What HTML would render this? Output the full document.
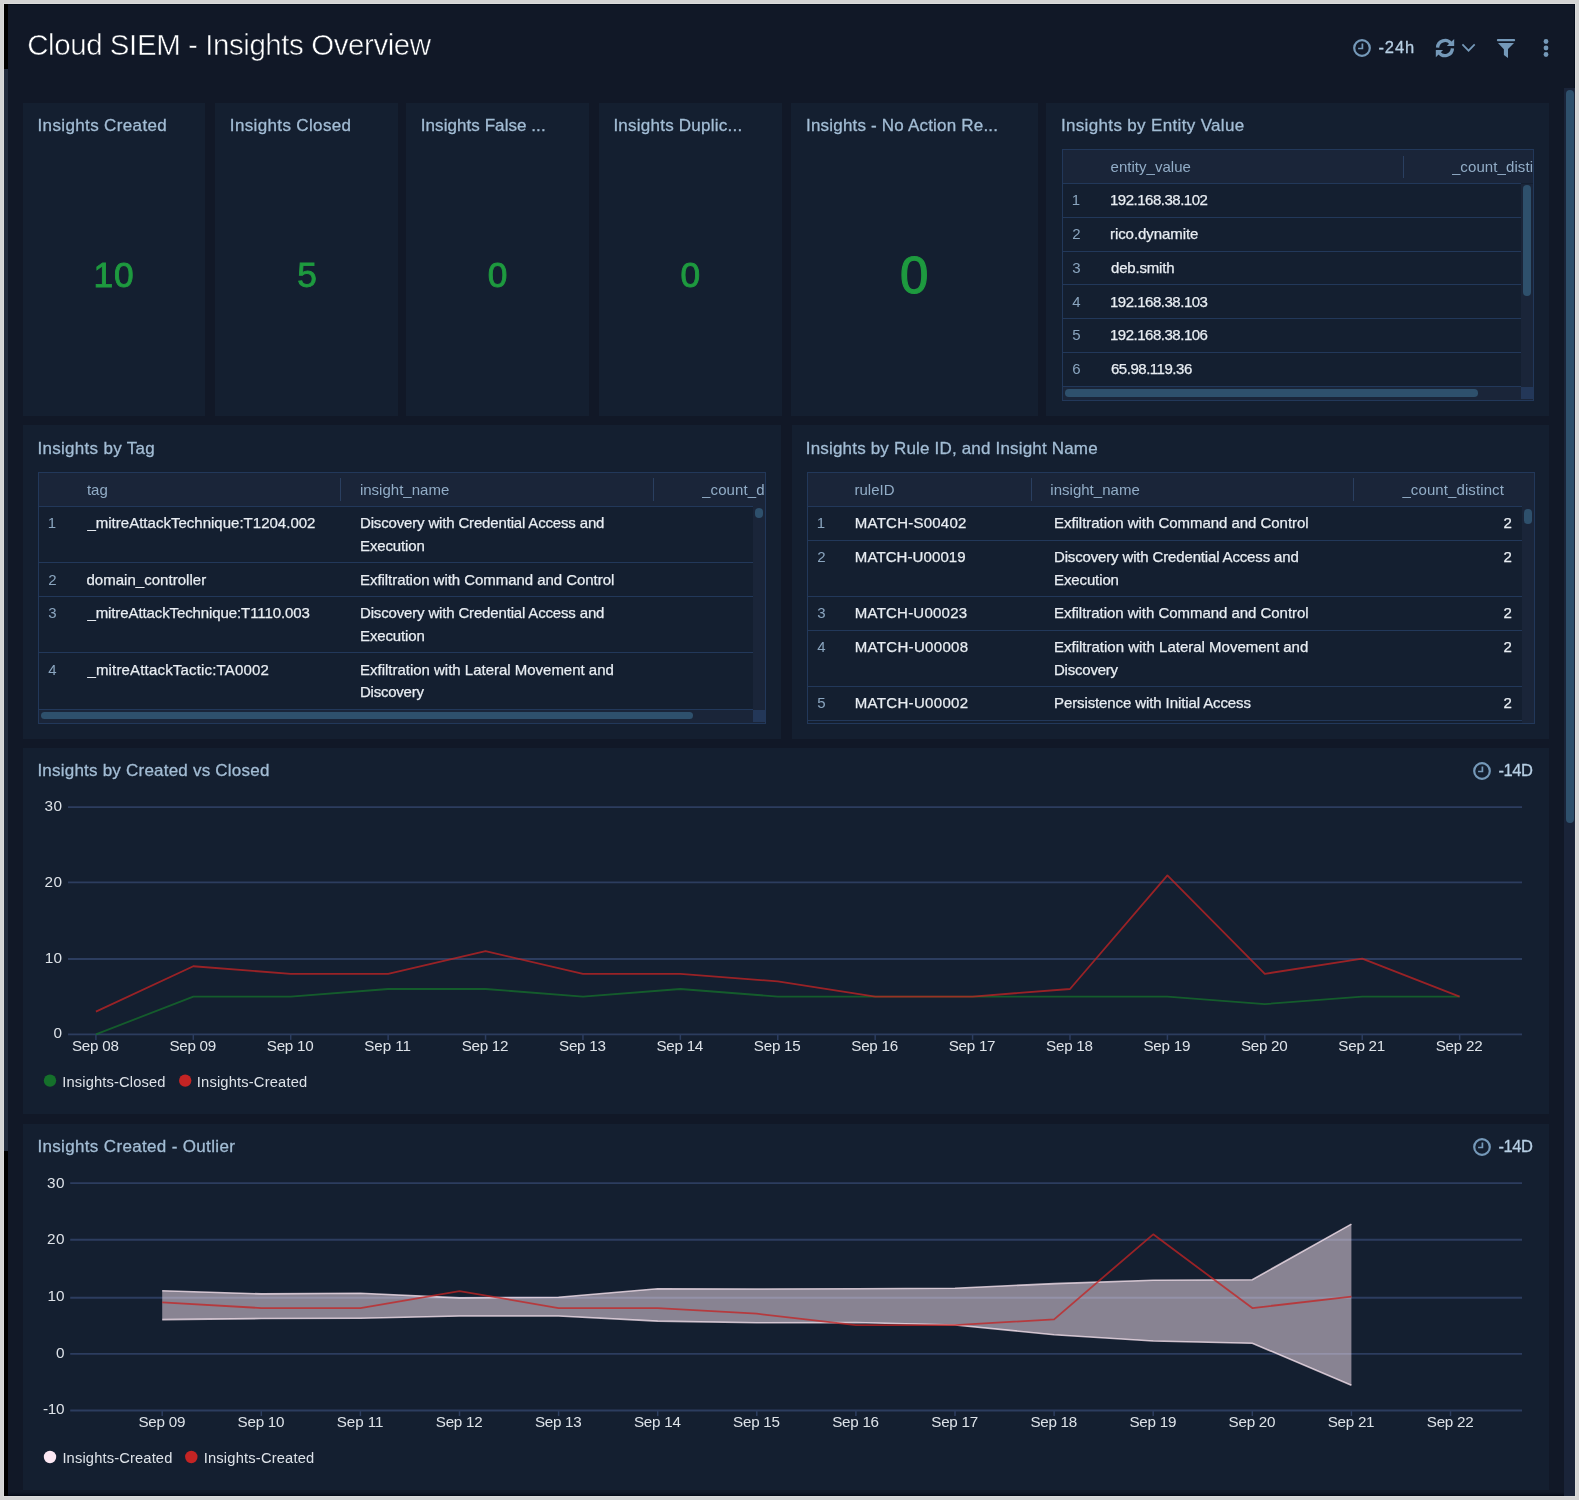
<!DOCTYPE html>
<html><head><meta charset="utf-8"><title>Cloud SIEM - Insights Overview</title>
<style>
html,body{margin:0;padding:0;}
body{width:1579px;height:1500px;position:relative;overflow:hidden;background:#d4d4d4;font-family:"Liberation Sans",sans-serif;}
svg{display:block;overflow:visible}
</style></head><body>
<div style="position:absolute;left:4.00px;top:4.00px;width:1571.00px;height:1492.00px;background:#111827;"></div>
<div style="position:absolute;left:4.00px;top:4.00px;width:4.00px;height:65.00px;background:#000;"></div>
<div style="position:absolute;left:4.00px;top:69.00px;width:4.00px;height:1082.00px;background:#222b3c;"></div>
<div style="position:absolute;left:4.00px;top:1151.00px;width:4.00px;height:345.00px;background:#000;"></div>
<div style="position:absolute;left:8.00px;top:1491.50px;width:1567.00px;height:4.50px;background:linear-gradient(to bottom, rgba(0,6,20,0) 0%, rgba(0,6,20,0.45) 70%, rgba(0,4,16,0.92) 100%);"></div>
<div style="position:absolute;left:1574.20px;top:4.00px;width:0.80px;height:1492.00px;background:rgba(0,6,22,0.6);"></div>
<div style="position:absolute;left:8.00px;top:4.00px;width:1567.00px;height:0.90px;background:rgba(0,6,22,0.6);"></div>
<div style="position:absolute;left:1564.00px;top:88.00px;width:11.00px;height:1408.00px;background:#1a2439;"></div>
<div style="position:absolute;left:1566.00px;top:90.00px;width:8.00px;height:733.00px;background:#2e506c;border-radius:4px;"></div>
<div style="position:absolute;left:3.00px;top:3.00px;width:1.00px;height:1494.00px;background:#dbdbdb;"></div>
<div style="position:absolute;left:1575.00px;top:3.00px;width:1.00px;height:1494.00px;background:#dbdbdb;"></div>
<div style="position:absolute;left:3.00px;top:3.00px;width:1573.00px;height:1.00px;background:#dbdbdb;"></div>
<div style="position:absolute;left:3.00px;top:1496.00px;width:1573.00px;height:1.00px;background:#dbdbdb;"></div>
<svg style="position:absolute;left:1351px;top:36.9px" width="22" height="22" viewBox="-11 -11 22 22"><circle cx="0" cy="0" r="7.8" fill="none" stroke="#7599b9" stroke-width="2.2"/><path d="M0.4,-4.6 V0.5 H-3.9" fill="none" stroke="#7599b9" stroke-width="1.7"/></svg>
<svg style="position:absolute;left:1430px;top:33px" width="30" height="30" viewBox="1430 33 30 30"><path d="M1437.55,47.6 A7.45,7.45 0 0 1 1450.9,43.4" fill="none" stroke="#7599b9" stroke-width="3.3"/><path d="M1452.45,48.4 A7.45,7.45 0 0 1 1439.1,52.7" fill="none" stroke="#7599b9" stroke-width="3.3"/><path d="M1454.2,38.9 V46.1 H1446.8 Z" fill="#7599b9"/><path d="M1435.8,57.2 V50.1 H1443.1 Z" fill="#7599b9"/></svg>
<svg style="position:absolute;left:1458px;top:38px" width="22" height="20" viewBox="1458 38 22 20"><path d="M1462.4,44.4 L1468.55,50.7 L1474.7,44.4" fill="none" stroke="#7599b9" stroke-width="1.7"/></svg>
<svg style="position:absolute;left:1492px;top:34px" width="28" height="28" viewBox="1492 34 28 28"><rect x="1496.9" y="39.1" width="18.2" height="2.1" rx="1" fill="#7599b9"/><path d="M1498,43 H1514 L1508,49 V58 L1503.9,54.9 V49.2 Z" fill="#7599b9"/></svg>
<svg style="position:absolute;left:1540px;top:36px" width="12" height="24" viewBox="1540 36 12 24"><circle cx="1546" cy="41.5" r="2.4" fill="#7599b9"/><circle cx="1546" cy="48" r="2.4" fill="#7599b9"/><circle cx="1546" cy="54.5" r="2.4" fill="#7599b9"/></svg>
<div style="position:absolute;left:23.00px;top:103.00px;width:182.00px;height:313.00px;background:#141f30;"></div>
<div style="position:absolute;left:215.20px;top:103.00px;width:182.40px;height:313.00px;background:#141f30;"></div>
<div style="position:absolute;left:406.20px;top:103.00px;width:182.40px;height:313.00px;background:#141f30;"></div>
<div style="position:absolute;left:599.10px;top:103.00px;width:182.50px;height:313.00px;background:#141f30;"></div>
<div style="position:absolute;left:791.30px;top:103.00px;width:246.40px;height:313.00px;background:#141f30;"></div>
<div style="position:absolute;left:1046.30px;top:103.00px;width:502.70px;height:313.00px;background:#141f30;"></div>
<div style="position:absolute;left:23.00px;top:425.00px;width:757.90px;height:314.00px;background:#141f30;"></div>
<div style="position:absolute;left:791.50px;top:425.00px;width:757.50px;height:314.00px;background:#141f30;"></div>
<div style="position:absolute;left:23.00px;top:748.00px;width:1526.00px;height:366.20px;background:#141f30;"></div>
<div style="position:absolute;left:23.00px;top:1124.00px;width:1526.00px;height:366.00px;background:#141f30;"></div>
<svg style="position:absolute;left:1471px;top:760.1px" width="22" height="22" viewBox="-11 -11 22 22"><circle cx="0" cy="0" r="7.8" fill="none" stroke="#7599b9" stroke-width="2.2"/><path d="M0.4,-4.6 V0.5 H-3.9" fill="none" stroke="#7599b9" stroke-width="1.7"/></svg>
<svg style="position:absolute;left:1471px;top:1136.2px" width="22" height="22" viewBox="-11 -11 22 22"><circle cx="0" cy="0" r="7.8" fill="none" stroke="#7599b9" stroke-width="2.2"/><path d="M0.4,-4.6 V0.5 H-3.9" fill="none" stroke="#7599b9" stroke-width="1.7"/></svg>
<div style="position:absolute;left:1062.40px;top:149.80px;width:471.20px;height:33.70px;background:#1a2539;"></div>
<div style="position:absolute;left:1521.20px;top:183.50px;width:12.40px;height:216.70px;background:#1a2539;"></div>
<div style="position:absolute;left:1062.40px;top:386.90px;width:458.80px;height:13.30px;background:#1a2539;"></div>
<div style="position:absolute;left:1061.90px;top:149.30px;width:472.20px;height:1.00px;background:#22385a;"></div>
<div style="position:absolute;left:1061.90px;top:399.70px;width:472.20px;height:1.00px;background:#22385a;"></div>
<div style="position:absolute;left:1061.90px;top:149.80px;width:1.00px;height:250.40px;background:#22385a;"></div>
<div style="position:absolute;left:1533.10px;top:149.80px;width:1.00px;height:250.40px;background:#22385a;"></div>
<div style="position:absolute;left:1062.40px;top:183.00px;width:458.80px;height:1.00px;background:#22385a;"></div>
<div style="position:absolute;left:1403.00px;top:155.50px;width:1.00px;height:22.50px;background:#2a3f60;"></div>
<div style="position:absolute;left:1062.40px;top:216.80px;width:458.80px;height:1.00px;background:#22385a;"></div>
<div style="position:absolute;left:1062.40px;top:250.80px;width:458.80px;height:1.00px;background:#22385a;"></div>
<div style="position:absolute;left:1062.40px;top:283.90px;width:458.80px;height:1.00px;background:#22385a;"></div>
<div style="position:absolute;left:1062.40px;top:317.70px;width:458.80px;height:1.00px;background:#22385a;"></div>
<div style="position:absolute;left:1062.40px;top:351.50px;width:458.80px;height:1.00px;background:#22385a;"></div>
<div style="position:absolute;left:1062.40px;top:385.90px;width:458.80px;height:1.00px;background:#22385a;"></div>
<div style="position:absolute;left:1523.10px;top:185.20px;width:7.80px;height:110.50px;background:#2e506c;border-radius:3.9px;"></div>
<div style="position:absolute;left:1064.90px;top:389.40px;width:413.00px;height:7.60px;background:#2e506c;border-radius:3.8px;"></div>
<div style="position:absolute;left:1521.20px;top:386.90px;width:11.90px;height:12.60px;background:#233758;"></div>
<div style="position:absolute;left:38.60px;top:472.20px;width:727.00px;height:34.40px;background:#1a2539;"></div>
<div style="position:absolute;left:753.20px;top:506.60px;width:12.40px;height:216.40px;background:#1a2539;"></div>
<div style="position:absolute;left:38.60px;top:709.70px;width:714.60px;height:13.30px;background:#1a2539;"></div>
<div style="position:absolute;left:38.10px;top:471.70px;width:728.00px;height:1.00px;background:#22385a;"></div>
<div style="position:absolute;left:38.10px;top:722.50px;width:728.00px;height:1.00px;background:#22385a;"></div>
<div style="position:absolute;left:38.10px;top:472.20px;width:1.00px;height:250.80px;background:#22385a;"></div>
<div style="position:absolute;left:765.10px;top:472.20px;width:1.00px;height:250.80px;background:#22385a;"></div>
<div style="position:absolute;left:38.60px;top:506.10px;width:714.60px;height:1.00px;background:#22385a;"></div>
<div style="position:absolute;left:339.90px;top:478.00px;width:1.00px;height:22.50px;background:#2a3f60;"></div>
<div style="position:absolute;left:653.00px;top:478.00px;width:1.00px;height:22.50px;background:#2a3f60;"></div>
<div style="position:absolute;left:38.60px;top:562.10px;width:714.60px;height:1.00px;background:#22385a;"></div>
<div style="position:absolute;left:38.60px;top:595.80px;width:714.60px;height:1.00px;background:#22385a;"></div>
<div style="position:absolute;left:38.60px;top:652.00px;width:714.60px;height:1.00px;background:#22385a;"></div>
<div style="position:absolute;left:38.60px;top:708.70px;width:714.60px;height:1.00px;background:#22385a;"></div>
<div style="position:absolute;left:755.00px;top:507.70px;width:8.10px;height:10.40px;background:#2e506c;border-radius:4.05px;"></div>
<div style="position:absolute;left:41.20px;top:711.80px;width:652.00px;height:7.60px;background:#2e506c;border-radius:3.8px;"></div>
<div style="position:absolute;left:753.20px;top:709.70px;width:11.90px;height:12.80px;background:#233758;"></div>
<div style="position:absolute;left:807.50px;top:472.20px;width:727.00px;height:34.40px;background:#1a2539;"></div>
<div style="position:absolute;left:1522.40px;top:506.60px;width:12.10px;height:216.40px;background:#1a2539;"></div>
<div style="position:absolute;left:807.00px;top:471.70px;width:728.00px;height:1.00px;background:#22385a;"></div>
<div style="position:absolute;left:807.00px;top:722.50px;width:728.00px;height:1.00px;background:#22385a;"></div>
<div style="position:absolute;left:807.00px;top:472.20px;width:1.00px;height:250.80px;background:#22385a;"></div>
<div style="position:absolute;left:1534.00px;top:472.20px;width:1.00px;height:250.80px;background:#22385a;"></div>
<div style="position:absolute;left:807.50px;top:506.10px;width:714.90px;height:1.00px;background:#22385a;"></div>
<div style="position:absolute;left:1030.50px;top:478.00px;width:1.00px;height:22.50px;background:#2a3f60;"></div>
<div style="position:absolute;left:1352.90px;top:478.00px;width:1.00px;height:22.50px;background:#2a3f60;"></div>
<div style="position:absolute;left:807.50px;top:539.90px;width:714.90px;height:1.00px;background:#22385a;"></div>
<div style="position:absolute;left:807.50px;top:596.10px;width:714.90px;height:1.00px;background:#22385a;"></div>
<div style="position:absolute;left:807.50px;top:630.00px;width:714.90px;height:1.00px;background:#22385a;"></div>
<div style="position:absolute;left:807.50px;top:686.20px;width:714.90px;height:1.00px;background:#22385a;"></div>
<div style="position:absolute;left:807.50px;top:720.10px;width:714.90px;height:1.00px;background:#22385a;"></div>
<div style="position:absolute;left:1524.40px;top:508.60px;width:7.60px;height:15.20px;background:#2e506c;border-radius:3.8px;"></div>
<svg style="position:absolute;left:0;top:748px" width="1579" height="366" viewBox="0 748 1579 366"><line x1="68" x2="1522" y1="807.10" y2="807.10" stroke="#2c3d5f" stroke-width="1.85"/><line x1="68" x2="1522" y1="882.40" y2="882.40" stroke="#2c3d5f" stroke-width="1.85"/><line x1="68" x2="1522" y1="959.00" y2="959.00" stroke="#2c3d5f" stroke-width="1.85"/><line x1="68" x2="1522" y1="1034.40" y2="1034.40" stroke="#2c3d5f" stroke-width="1.85"/><line x1="95.90" x2="95.90" y1="1034.40" y2="1039.90" stroke="#2c3d5f" stroke-width="1.5"/><line x1="193.31" x2="193.31" y1="1034.40" y2="1039.90" stroke="#2c3d5f" stroke-width="1.5"/><line x1="290.72" x2="290.72" y1="1034.40" y2="1039.90" stroke="#2c3d5f" stroke-width="1.5"/><line x1="388.13" x2="388.13" y1="1034.40" y2="1039.90" stroke="#2c3d5f" stroke-width="1.5"/><line x1="485.54" x2="485.54" y1="1034.40" y2="1039.90" stroke="#2c3d5f" stroke-width="1.5"/><line x1="582.95" x2="582.95" y1="1034.40" y2="1039.90" stroke="#2c3d5f" stroke-width="1.5"/><line x1="680.36" x2="680.36" y1="1034.40" y2="1039.90" stroke="#2c3d5f" stroke-width="1.5"/><line x1="777.77" x2="777.77" y1="1034.40" y2="1039.90" stroke="#2c3d5f" stroke-width="1.5"/><line x1="875.18" x2="875.18" y1="1034.40" y2="1039.90" stroke="#2c3d5f" stroke-width="1.5"/><line x1="972.59" x2="972.59" y1="1034.40" y2="1039.90" stroke="#2c3d5f" stroke-width="1.5"/><line x1="1070.00" x2="1070.00" y1="1034.40" y2="1039.90" stroke="#2c3d5f" stroke-width="1.5"/><line x1="1167.41" x2="1167.41" y1="1034.40" y2="1039.90" stroke="#2c3d5f" stroke-width="1.5"/><line x1="1264.82" x2="1264.82" y1="1034.40" y2="1039.90" stroke="#2c3d5f" stroke-width="1.5"/><line x1="1362.23" x2="1362.23" y1="1034.40" y2="1039.90" stroke="#2c3d5f" stroke-width="1.5"/><line x1="1459.64" x2="1459.64" y1="1034.40" y2="1039.90" stroke="#2c3d5f" stroke-width="1.5"/><polyline points="95.90,1034.40 193.31,996.55 290.72,996.55 388.13,988.98 485.54,988.98 582.95,996.55 680.36,988.98 777.77,996.55 875.18,996.55 972.59,996.55 1070.00,996.55 1167.41,996.55 1264.82,1004.12 1362.23,996.55 1459.64,996.55" fill="none" stroke="#15702b" stroke-opacity="0.76" stroke-width="1.8" stroke-linejoin="round"/><polyline points="95.90,1011.69 193.31,966.27 290.72,973.84 388.13,973.84 485.54,951.13 582.95,973.84 680.36,973.84 777.77,981.41 875.18,996.55 972.59,996.55 1070.00,988.98 1167.41,875.43 1264.82,973.84 1362.23,958.70 1459.64,996.55" fill="none" stroke="#c42424" stroke-opacity="0.76" stroke-width="1.8" stroke-linejoin="round"/><circle cx="50" cy="1080.6" r="6.2" fill="#15702b"/><circle cx="185.2" cy="1080.6" r="6.2" fill="#c42424"/></svg>
<svg style="position:absolute;left:0;top:1124px" width="1579" height="366" viewBox="0 1124 1579 366"><line x1="70.2" x2="1522" y1="1183.10" y2="1183.10" stroke="#2c3d5f" stroke-width="1.85"/><line x1="70.2" x2="1522" y1="1239.70" y2="1239.70" stroke="#2c3d5f" stroke-width="1.85"/><line x1="70.2" x2="1522" y1="1297.70" y2="1297.70" stroke="#2c3d5f" stroke-width="1.85"/><line x1="70.2" x2="1522" y1="1353.90" y2="1353.90" stroke="#2c3d5f" stroke-width="1.85"/><line x1="70.2" x2="1522" y1="1410.50" y2="1410.50" stroke="#2c3d5f" stroke-width="1.85"/><line x1="162.20" x2="162.20" y1="1410.50" y2="1416.00" stroke="#2c3d5f" stroke-width="1.5"/><line x1="261.30" x2="261.30" y1="1410.50" y2="1416.00" stroke="#2c3d5f" stroke-width="1.5"/><line x1="360.40" x2="360.40" y1="1410.50" y2="1416.00" stroke="#2c3d5f" stroke-width="1.5"/><line x1="459.50" x2="459.50" y1="1410.50" y2="1416.00" stroke="#2c3d5f" stroke-width="1.5"/><line x1="558.60" x2="558.60" y1="1410.50" y2="1416.00" stroke="#2c3d5f" stroke-width="1.5"/><line x1="657.70" x2="657.70" y1="1410.50" y2="1416.00" stroke="#2c3d5f" stroke-width="1.5"/><line x1="756.80" x2="756.80" y1="1410.50" y2="1416.00" stroke="#2c3d5f" stroke-width="1.5"/><line x1="855.90" x2="855.90" y1="1410.50" y2="1416.00" stroke="#2c3d5f" stroke-width="1.5"/><line x1="955.00" x2="955.00" y1="1410.50" y2="1416.00" stroke="#2c3d5f" stroke-width="1.5"/><line x1="1054.10" x2="1054.10" y1="1410.50" y2="1416.00" stroke="#2c3d5f" stroke-width="1.5"/><line x1="1153.20" x2="1153.20" y1="1410.50" y2="1416.00" stroke="#2c3d5f" stroke-width="1.5"/><line x1="1252.30" x2="1252.30" y1="1410.50" y2="1416.00" stroke="#2c3d5f" stroke-width="1.5"/><line x1="1351.40" x2="1351.40" y1="1410.50" y2="1416.00" stroke="#2c3d5f" stroke-width="1.5"/><line x1="1450.50" x2="1450.50" y1="1410.50" y2="1416.00" stroke="#2c3d5f" stroke-width="1.5"/><polygon points="162.20,1290.69 261.30,1293.87 360.40,1293.30 459.50,1297.83 558.60,1297.27 657.70,1288.76 756.80,1289.05 855.90,1288.76 955.00,1288.20 1054.10,1283.66 1153.20,1280.26 1252.30,1279.69 1351.40,1224.12 1351.40,1385.15 1252.30,1343.19 1153.20,1340.93 1054.10,1334.69 955.00,1325.05 855.90,1322.50 756.80,1322.78 657.70,1321.08 558.60,1315.98 459.50,1315.98 360.40,1318.25 261.30,1318.53 162.20,1319.61" fill="#fce8f3" fill-opacity="0.5" stroke="none"/><polyline points="162.20,1290.69 261.30,1293.87 360.40,1293.30 459.50,1297.83 558.60,1297.27 657.70,1288.76 756.80,1289.05 855.90,1288.76 955.00,1288.20 1054.10,1283.66 1153.20,1280.26 1252.30,1279.69 1351.40,1224.12" fill="none" stroke="#fce8f3" stroke-opacity="0.75" stroke-width="1.6"/><polyline points="162.20,1319.61 261.30,1318.53 360.40,1318.25 459.50,1315.98 558.60,1315.98 657.70,1321.08 756.80,1322.78 855.90,1322.50 955.00,1325.05 1054.10,1334.69 1153.20,1340.93 1252.30,1343.19 1351.40,1385.15" fill="none" stroke="#fce8f3" stroke-opacity="0.75" stroke-width="1.6"/><polyline points="162.20,1302.37 261.30,1308.04 360.40,1308.04 459.50,1291.03 558.60,1308.04 657.70,1308.04 756.80,1313.71 855.90,1325.05 955.00,1325.05 1054.10,1319.38 1153.20,1234.33 1252.30,1308.04 1351.40,1296.70" fill="none" stroke="#c42424" stroke-opacity="0.76" stroke-width="1.8" stroke-linejoin="round"/><circle cx="50" cy="1457" r="6.2" fill="#fce8f3"/><circle cx="191.3" cy="1457" r="6.2" fill="#c42424"/></svg>
<div id="txt" style="position:absolute;left:0;top:0;width:1579px;height:1500px;will-change:transform">
<span style="position:absolute;left:27.20px;top:35px;line-height:20px;font-size:29.5px;color:#ffffff;white-space:pre;letter-spacing:-0.431px;-webkit-text-stroke:0.55px #111827;">Cloud SIEM - Insights Overview</span>
<span style="position:absolute;left:1378.40px;top:37px;line-height:20px;font-size:16.5px;color:#b7cfe4;white-space:pre;letter-spacing:0.917px;-webkit-text-stroke:0.3px #b7cfe4;">-24h</span>
<span style="position:absolute;left:37.50px;top:116px;line-height:20px;font-size:17px;color:#a3bdd5;white-space:pre;letter-spacing:0.364px;-webkit-text-stroke:0.3px #a3bdd5;">Insights Created</span>
<span style="position:absolute;left:229.80px;top:116px;line-height:20px;font-size:17px;color:#a3bdd5;white-space:pre;letter-spacing:0.359px;-webkit-text-stroke:0.3px #a3bdd5;">Insights Closed</span>
<span style="position:absolute;left:420.80px;top:116px;line-height:20px;font-size:17px;color:#a3bdd5;white-space:pre;letter-spacing:0.062px;-webkit-text-stroke:0.3px #a3bdd5;">Insights False ...</span>
<span style="position:absolute;left:613.40px;top:116px;line-height:20px;font-size:17px;color:#a3bdd5;white-space:pre;letter-spacing:0.236px;-webkit-text-stroke:0.3px #a3bdd5;">Insights Duplic...</span>
<span style="position:absolute;left:806.00px;top:116px;line-height:20px;font-size:17px;color:#a3bdd5;white-space:pre;letter-spacing:0.196px;-webkit-text-stroke:0.3px #a3bdd5;">Insights - No Action Re...</span>
<span style="position:absolute;left:1060.90px;top:116px;line-height:20px;font-size:17px;color:#a3bdd5;white-space:pre;letter-spacing:0.344px;-webkit-text-stroke:0.3px #a3bdd5;">Insights by Entity Value</span>
<span style="position:absolute;left:37.40px;top:439px;line-height:20px;font-size:17px;color:#a3bdd5;white-space:pre;letter-spacing:0.304px;-webkit-text-stroke:0.3px #a3bdd5;">Insights by Tag</span>
<span style="position:absolute;left:805.80px;top:439px;line-height:20px;font-size:17px;color:#a3bdd5;white-space:pre;letter-spacing:0.180px;-webkit-text-stroke:0.3px #a3bdd5;">Insights by Rule ID, and Insight Name</span>
<span style="position:absolute;left:37.40px;top:761px;line-height:20px;font-size:17px;color:#a3bdd5;white-space:pre;letter-spacing:0.219px;-webkit-text-stroke:0.3px #a3bdd5;">Insights by Created vs Closed</span>
<span style="position:absolute;left:37.40px;top:1137px;line-height:20px;font-size:17px;color:#a3bdd5;white-space:pre;letter-spacing:0.340px;-webkit-text-stroke:0.3px #a3bdd5;">Insights Created - Outlier</span>
<span style="position:absolute;left:93.60px;top:265px;line-height:20px;font-size:35.3px;color:#1e9a3f;white-space:pre;letter-spacing:0.770px;-webkit-text-stroke:0.9px #1e9a3f;">10</span>
<span style="position:absolute;left:297.25px;top:265px;line-height:20px;font-size:35.3px;color:#1e9a3f;white-space:pre;-webkit-text-stroke:0.9px #1e9a3f;">5</span>
<span style="position:absolute;left:487.80px;top:265px;line-height:20px;font-size:35.3px;color:#1e9a3f;white-space:pre;-webkit-text-stroke:0.9px #1e9a3f;">0</span>
<span style="position:absolute;left:680.45px;top:265px;line-height:20px;font-size:35.3px;color:#1e9a3f;white-space:pre;-webkit-text-stroke:0.9px #1e9a3f;">0</span>
<span style="position:absolute;left:900.05px;top:266px;line-height:20px;font-size:51px;color:#1e9a3f;white-space:pre;-webkit-text-stroke:1.2px #1e9a3f;">0</span>
<span style="position:absolute;left:1498.40px;top:760px;line-height:20px;font-size:16.5px;color:#b7cfe4;white-space:pre;letter-spacing:-0.449px;-webkit-text-stroke:0.3px #b7cfe4;">-14D</span>
<span style="position:absolute;left:1498.40px;top:1136px;line-height:20px;font-size:16.5px;color:#b7cfe4;white-space:pre;letter-spacing:-0.449px;-webkit-text-stroke:0.3px #b7cfe4;">-14D</span>
<span style="position:absolute;left:1110.50px;top:157px;line-height:20px;font-size:15px;color:#92adc7;white-space:pre;letter-spacing:0.035px;">entity_value</span>
<span style="position:absolute;left:1451.90px;top:157px;line-height:20px;font-size:15px;color:#92adc7;white-space:pre;letter-spacing:0.100px;width:81.40px;overflow:hidden;">_count_distinct</span>
<span style="position:absolute;left:1071.80px;top:190px;line-height:20px;font-size:15px;color:#8aa5bf;white-space:pre;">1</span>
<span style="position:absolute;left:1110.00px;top:190px;line-height:20px;font-size:15px;color:#e8edf2;white-space:pre;letter-spacing:-0.494px;-webkit-text-stroke:0.25px #e8edf2;">192.168.38.102</span>
<span style="position:absolute;left:1072.30px;top:224px;line-height:20px;font-size:15px;color:#8aa5bf;white-space:pre;">2</span>
<span style="position:absolute;left:1110.00px;top:224px;line-height:20px;font-size:15px;color:#e8edf2;white-space:pre;letter-spacing:-0.072px;-webkit-text-stroke:0.25px #e8edf2;">rico.dynamite</span>
<span style="position:absolute;left:1072.30px;top:258px;line-height:20px;font-size:15px;color:#8aa5bf;white-space:pre;">3</span>
<span style="position:absolute;left:1111.00px;top:258px;line-height:20px;font-size:15px;color:#e8edf2;white-space:pre;letter-spacing:-0.186px;-webkit-text-stroke:0.25px #e8edf2;">deb.smith</span>
<span style="position:absolute;left:1072.30px;top:292px;line-height:20px;font-size:15px;color:#8aa5bf;white-space:pre;">4</span>
<span style="position:absolute;left:1110.00px;top:292px;line-height:20px;font-size:15px;color:#e8edf2;white-space:pre;letter-spacing:-0.487px;-webkit-text-stroke:0.25px #e8edf2;">192.168.38.103</span>
<span style="position:absolute;left:1072.30px;top:325px;line-height:20px;font-size:15px;color:#8aa5bf;white-space:pre;">5</span>
<span style="position:absolute;left:1110.00px;top:325px;line-height:20px;font-size:15px;color:#e8edf2;white-space:pre;letter-spacing:-0.487px;-webkit-text-stroke:0.25px #e8edf2;">192.168.38.106</span>
<span style="position:absolute;left:1072.30px;top:359px;line-height:20px;font-size:15px;color:#8aa5bf;white-space:pre;">6</span>
<span style="position:absolute;left:1111.00px;top:359px;line-height:20px;font-size:15px;color:#e8edf2;white-space:pre;letter-spacing:-0.475px;-webkit-text-stroke:0.25px #e8edf2;">65.98.119.36</span>
<span style="position:absolute;left:86.90px;top:480px;line-height:20px;font-size:15px;color:#92adc7;white-space:pre;">tag</span>
<span style="position:absolute;left:359.90px;top:480px;line-height:20px;font-size:15px;color:#92adc7;white-space:pre;letter-spacing:0.011px;">insight_name</span>
<span style="position:absolute;left:702.10px;top:480px;line-height:20px;font-size:15px;color:#92adc7;white-space:pre;letter-spacing:0.100px;width:63.00px;overflow:hidden;">_count_distinct</span>
<span style="position:absolute;left:47.70px;top:513px;line-height:20px;font-size:15px;color:#8aa5bf;white-space:pre;">1</span>
<span style="position:absolute;left:87.40px;top:513px;line-height:20px;font-size:15px;color:#e8edf2;white-space:pre;letter-spacing:0.014px;-webkit-text-stroke:0.25px #e8edf2;">_mitreAttackTechnique:T1204.002</span>
<span style="position:absolute;left:360.00px;top:513px;line-height:20px;font-size:15px;color:#e8edf2;white-space:pre;letter-spacing:-0.163px;-webkit-text-stroke:0.25px #e8edf2;">Discovery with Credential Access and</span>
<span style="position:absolute;left:360.00px;top:536px;line-height:20px;font-size:15px;color:#e8edf2;white-space:pre;letter-spacing:-0.129px;-webkit-text-stroke:0.25px #e8edf2;">Execution</span>
<span style="position:absolute;left:48.20px;top:570px;line-height:20px;font-size:15px;color:#8aa5bf;white-space:pre;">2</span>
<span style="position:absolute;left:86.40px;top:570px;line-height:20px;font-size:15px;color:#e8edf2;white-space:pre;letter-spacing:0.035px;-webkit-text-stroke:0.25px #e8edf2;">domain_controller</span>
<span style="position:absolute;left:360.00px;top:570px;line-height:20px;font-size:15px;color:#e8edf2;white-space:pre;letter-spacing:-0.045px;-webkit-text-stroke:0.25px #e8edf2;">Exfiltration with Command and Control</span>
<span style="position:absolute;left:48.20px;top:603px;line-height:20px;font-size:15px;color:#8aa5bf;white-space:pre;">3</span>
<span style="position:absolute;left:87.40px;top:603px;line-height:20px;font-size:15px;color:#e8edf2;white-space:pre;letter-spacing:-0.099px;-webkit-text-stroke:0.25px #e8edf2;">_mitreAttackTechnique:T1110.003</span>
<span style="position:absolute;left:360.00px;top:603px;line-height:20px;font-size:15px;color:#e8edf2;white-space:pre;letter-spacing:-0.163px;-webkit-text-stroke:0.25px #e8edf2;">Discovery with Credential Access and</span>
<span style="position:absolute;left:360.00px;top:626px;line-height:20px;font-size:15px;color:#e8edf2;white-space:pre;letter-spacing:-0.129px;-webkit-text-stroke:0.25px #e8edf2;">Execution</span>
<span style="position:absolute;left:48.20px;top:660px;line-height:20px;font-size:15px;color:#8aa5bf;white-space:pre;">4</span>
<span style="position:absolute;left:87.40px;top:660px;line-height:20px;font-size:15px;color:#e8edf2;white-space:pre;letter-spacing:0.173px;-webkit-text-stroke:0.25px #e8edf2;">_mitreAttackTactic:TA0002</span>
<span style="position:absolute;left:360.00px;top:660px;line-height:20px;font-size:15px;color:#e8edf2;white-space:pre;letter-spacing:-0.012px;-webkit-text-stroke:0.25px #e8edf2;">Exfiltration with Lateral Movement and</span>
<span style="position:absolute;left:360.00px;top:682px;line-height:20px;font-size:15px;color:#e8edf2;white-space:pre;letter-spacing:-0.231px;-webkit-text-stroke:0.25px #e8edf2;">Discovery</span>
<span style="position:absolute;left:854.50px;top:480px;line-height:20px;font-size:15px;color:#92adc7;white-space:pre;">ruleID</span>
<span style="position:absolute;left:1050.30px;top:480px;line-height:20px;font-size:15px;color:#92adc7;white-space:pre;letter-spacing:0.020px;">insight_name</span>
<span style="position:absolute;left:1402.40px;top:480px;line-height:20px;font-size:15px;color:#92adc7;white-space:pre;letter-spacing:0.100px;">_count_distinct</span>
<span style="position:absolute;left:816.80px;top:513px;line-height:20px;font-size:15px;color:#8aa5bf;white-space:pre;">1</span>
<span style="position:absolute;left:854.80px;top:513px;line-height:20px;font-size:15px;color:#e8edf2;white-space:pre;letter-spacing:0.238px;-webkit-text-stroke:0.25px #e8edf2;">MATCH-S00402</span>
<span style="position:absolute;left:1054.00px;top:513px;line-height:20px;font-size:15px;color:#e8edf2;white-space:pre;letter-spacing:-0.036px;-webkit-text-stroke:0.25px #e8edf2;">Exfiltration with Command and Control</span>
<span style="position:absolute;left:1503.40px;top:513px;line-height:20px;font-size:15px;color:#e8edf2;white-space:pre;-webkit-text-stroke:0.25px #e8edf2;">2</span>
<span style="position:absolute;left:817.30px;top:547px;line-height:20px;font-size:15px;color:#8aa5bf;white-space:pre;">2</span>
<span style="position:absolute;left:854.80px;top:547px;line-height:20px;font-size:15px;color:#e8edf2;white-space:pre;letter-spacing:0.099px;-webkit-text-stroke:0.25px #e8edf2;">MATCH-U00019</span>
<span style="position:absolute;left:1054.00px;top:547px;line-height:20px;font-size:15px;color:#e8edf2;white-space:pre;letter-spacing:-0.154px;-webkit-text-stroke:0.25px #e8edf2;">Discovery with Credential Access and</span>
<span style="position:absolute;left:1054.00px;top:570px;line-height:20px;font-size:15px;color:#e8edf2;white-space:pre;letter-spacing:-0.116px;-webkit-text-stroke:0.25px #e8edf2;">Execution</span>
<span style="position:absolute;left:1503.40px;top:547px;line-height:20px;font-size:15px;color:#e8edf2;white-space:pre;-webkit-text-stroke:0.25px #e8edf2;">2</span>
<span style="position:absolute;left:817.30px;top:603px;line-height:20px;font-size:15px;color:#8aa5bf;white-space:pre;">3</span>
<span style="position:absolute;left:854.80px;top:603px;line-height:20px;font-size:15px;color:#e8edf2;white-space:pre;letter-spacing:0.226px;-webkit-text-stroke:0.25px #e8edf2;">MATCH-U00023</span>
<span style="position:absolute;left:1054.00px;top:603px;line-height:20px;font-size:15px;color:#e8edf2;white-space:pre;letter-spacing:-0.036px;-webkit-text-stroke:0.25px #e8edf2;">Exfiltration with Command and Control</span>
<span style="position:absolute;left:1503.40px;top:603px;line-height:20px;font-size:15px;color:#e8edf2;white-space:pre;-webkit-text-stroke:0.25px #e8edf2;">2</span>
<span style="position:absolute;left:817.30px;top:637px;line-height:20px;font-size:15px;color:#8aa5bf;white-space:pre;">4</span>
<span style="position:absolute;left:854.80px;top:637px;line-height:20px;font-size:15px;color:#e8edf2;white-space:pre;letter-spacing:0.317px;-webkit-text-stroke:0.25px #e8edf2;">MATCH-U00008</span>
<span style="position:absolute;left:1054.00px;top:637px;line-height:20px;font-size:15px;color:#e8edf2;white-space:pre;-webkit-text-stroke:0.25px #e8edf2;">Exfiltration with Lateral Movement and</span>
<span style="position:absolute;left:1054.00px;top:660px;line-height:20px;font-size:15px;color:#e8edf2;white-space:pre;letter-spacing:-0.218px;-webkit-text-stroke:0.25px #e8edf2;">Discovery</span>
<span style="position:absolute;left:1503.40px;top:637px;line-height:20px;font-size:15px;color:#e8edf2;white-space:pre;-webkit-text-stroke:0.25px #e8edf2;">2</span>
<span style="position:absolute;left:817.30px;top:693px;line-height:20px;font-size:15px;color:#8aa5bf;white-space:pre;">5</span>
<span style="position:absolute;left:854.80px;top:693px;line-height:20px;font-size:15px;color:#e8edf2;white-space:pre;letter-spacing:0.317px;-webkit-text-stroke:0.25px #e8edf2;">MATCH-U00002</span>
<span style="position:absolute;left:1054.00px;top:693px;line-height:20px;font-size:15px;color:#e8edf2;white-space:pre;letter-spacing:-0.104px;-webkit-text-stroke:0.25px #e8edf2;">Persistence with Initial Access</span>
<span style="position:absolute;left:1503.40px;top:693px;line-height:20px;font-size:15px;color:#e8edf2;white-space:pre;-webkit-text-stroke:0.25px #e8edf2;">2</span>
<span style="position:absolute;left:44.40px;top:796px;line-height:20px;font-size:15.3px;color:#dde2e8;white-space:pre;letter-spacing:0.493px;">30</span>
<span style="position:absolute;left:44.40px;top:872px;line-height:20px;font-size:15.3px;color:#dde2e8;white-space:pre;letter-spacing:0.493px;">20</span>
<span style="position:absolute;left:44.70px;top:948px;line-height:20px;font-size:15.3px;color:#dde2e8;white-space:pre;letter-spacing:0.193px;">10</span>
<span style="position:absolute;left:53.40px;top:1023px;line-height:20px;font-size:15.3px;color:#dde2e8;white-space:pre;">0</span>
<span style="position:absolute;left:72.00px;top:1036px;line-height:20px;font-size:15.2px;color:#dde2e8;white-space:pre;letter-spacing:-0.258px;">Sep 08</span>
<span style="position:absolute;left:169.41px;top:1036px;line-height:20px;font-size:15.2px;color:#dde2e8;white-space:pre;letter-spacing:-0.258px;">Sep 09</span>
<span style="position:absolute;left:266.82px;top:1036px;line-height:20px;font-size:15.2px;color:#dde2e8;white-space:pre;letter-spacing:-0.258px;">Sep 10</span>
<span style="position:absolute;left:364.23px;top:1036px;line-height:20px;font-size:15.2px;color:#dde2e8;white-space:pre;letter-spacing:-0.032px;">Sep 11</span>
<span style="position:absolute;left:461.64px;top:1036px;line-height:20px;font-size:15.2px;color:#dde2e8;white-space:pre;letter-spacing:-0.258px;">Sep 12</span>
<span style="position:absolute;left:559.05px;top:1036px;line-height:20px;font-size:15.2px;color:#dde2e8;white-space:pre;letter-spacing:-0.258px;">Sep 13</span>
<span style="position:absolute;left:656.46px;top:1036px;line-height:20px;font-size:15.2px;color:#dde2e8;white-space:pre;letter-spacing:-0.258px;">Sep 14</span>
<span style="position:absolute;left:753.87px;top:1036px;line-height:20px;font-size:15.2px;color:#dde2e8;white-space:pre;letter-spacing:-0.258px;">Sep 15</span>
<span style="position:absolute;left:851.28px;top:1036px;line-height:20px;font-size:15.2px;color:#dde2e8;white-space:pre;letter-spacing:-0.258px;">Sep 16</span>
<span style="position:absolute;left:948.69px;top:1036px;line-height:20px;font-size:15.2px;color:#dde2e8;white-space:pre;letter-spacing:-0.258px;">Sep 17</span>
<span style="position:absolute;left:1046.10px;top:1036px;line-height:20px;font-size:15.2px;color:#dde2e8;white-space:pre;letter-spacing:-0.258px;">Sep 18</span>
<span style="position:absolute;left:1143.51px;top:1036px;line-height:20px;font-size:15.2px;color:#dde2e8;white-space:pre;letter-spacing:-0.258px;">Sep 19</span>
<span style="position:absolute;left:1240.92px;top:1036px;line-height:20px;font-size:15.2px;color:#dde2e8;white-space:pre;letter-spacing:-0.258px;">Sep 20</span>
<span style="position:absolute;left:1338.33px;top:1036px;line-height:20px;font-size:15.2px;color:#dde2e8;white-space:pre;letter-spacing:-0.258px;">Sep 21</span>
<span style="position:absolute;left:1435.74px;top:1036px;line-height:20px;font-size:15.2px;color:#dde2e8;white-space:pre;letter-spacing:-0.258px;">Sep 22</span>
<span style="position:absolute;left:62.20px;top:1072px;line-height:20px;font-size:14.7px;color:#dde2e8;white-space:pre;letter-spacing:0.146px;">Insights-Closed</span>
<span style="position:absolute;left:196.80px;top:1072px;line-height:20px;font-size:14.7px;color:#dde2e8;white-space:pre;letter-spacing:0.174px;">Insights-Created</span>
<span style="position:absolute;left:47.10px;top:1173px;line-height:20px;font-size:15.3px;color:#dde2e8;white-space:pre;letter-spacing:0.493px;">30</span>
<span style="position:absolute;left:47.10px;top:1229px;line-height:20px;font-size:15.3px;color:#dde2e8;white-space:pre;letter-spacing:0.493px;">20</span>
<span style="position:absolute;left:47.40px;top:1286px;line-height:20px;font-size:15.3px;color:#dde2e8;white-space:pre;letter-spacing:0.193px;">10</span>
<span style="position:absolute;left:56.10px;top:1343px;line-height:20px;font-size:15.3px;color:#dde2e8;white-space:pre;">0</span>
<span style="position:absolute;left:42.90px;top:1399px;line-height:20px;font-size:15.3px;color:#dde2e8;white-space:pre;letter-spacing:-0.201px;">-10</span>
<span style="position:absolute;left:138.50px;top:1412px;line-height:20px;font-size:15.2px;color:#dde2e8;white-space:pre;letter-spacing:-0.258px;">Sep 09</span>
<span style="position:absolute;left:237.60px;top:1412px;line-height:20px;font-size:15.2px;color:#dde2e8;white-space:pre;letter-spacing:-0.258px;">Sep 10</span>
<span style="position:absolute;left:336.70px;top:1412px;line-height:20px;font-size:15.2px;color:#dde2e8;white-space:pre;letter-spacing:-0.032px;">Sep 11</span>
<span style="position:absolute;left:435.80px;top:1412px;line-height:20px;font-size:15.2px;color:#dde2e8;white-space:pre;letter-spacing:-0.258px;">Sep 12</span>
<span style="position:absolute;left:534.90px;top:1412px;line-height:20px;font-size:15.2px;color:#dde2e8;white-space:pre;letter-spacing:-0.258px;">Sep 13</span>
<span style="position:absolute;left:634.00px;top:1412px;line-height:20px;font-size:15.2px;color:#dde2e8;white-space:pre;letter-spacing:-0.258px;">Sep 14</span>
<span style="position:absolute;left:733.10px;top:1412px;line-height:20px;font-size:15.2px;color:#dde2e8;white-space:pre;letter-spacing:-0.258px;">Sep 15</span>
<span style="position:absolute;left:832.20px;top:1412px;line-height:20px;font-size:15.2px;color:#dde2e8;white-space:pre;letter-spacing:-0.258px;">Sep 16</span>
<span style="position:absolute;left:931.30px;top:1412px;line-height:20px;font-size:15.2px;color:#dde2e8;white-space:pre;letter-spacing:-0.258px;">Sep 17</span>
<span style="position:absolute;left:1030.40px;top:1412px;line-height:20px;font-size:15.2px;color:#dde2e8;white-space:pre;letter-spacing:-0.258px;">Sep 18</span>
<span style="position:absolute;left:1129.50px;top:1412px;line-height:20px;font-size:15.2px;color:#dde2e8;white-space:pre;letter-spacing:-0.258px;">Sep 19</span>
<span style="position:absolute;left:1228.60px;top:1412px;line-height:20px;font-size:15.2px;color:#dde2e8;white-space:pre;letter-spacing:-0.258px;">Sep 20</span>
<span style="position:absolute;left:1327.70px;top:1412px;line-height:20px;font-size:15.2px;color:#dde2e8;white-space:pre;letter-spacing:-0.258px;">Sep 21</span>
<span style="position:absolute;left:1426.80px;top:1412px;line-height:20px;font-size:15.2px;color:#dde2e8;white-space:pre;letter-spacing:-0.258px;">Sep 22</span>
<span style="position:absolute;left:62.40px;top:1448px;line-height:20px;font-size:14.7px;color:#dde2e8;white-space:pre;letter-spacing:0.147px;">Insights-Created</span>
<span style="position:absolute;left:203.70px;top:1448px;line-height:20px;font-size:14.7px;color:#dde2e8;white-space:pre;letter-spacing:0.187px;">Insights-Created</span>
</div>
</body></html>
